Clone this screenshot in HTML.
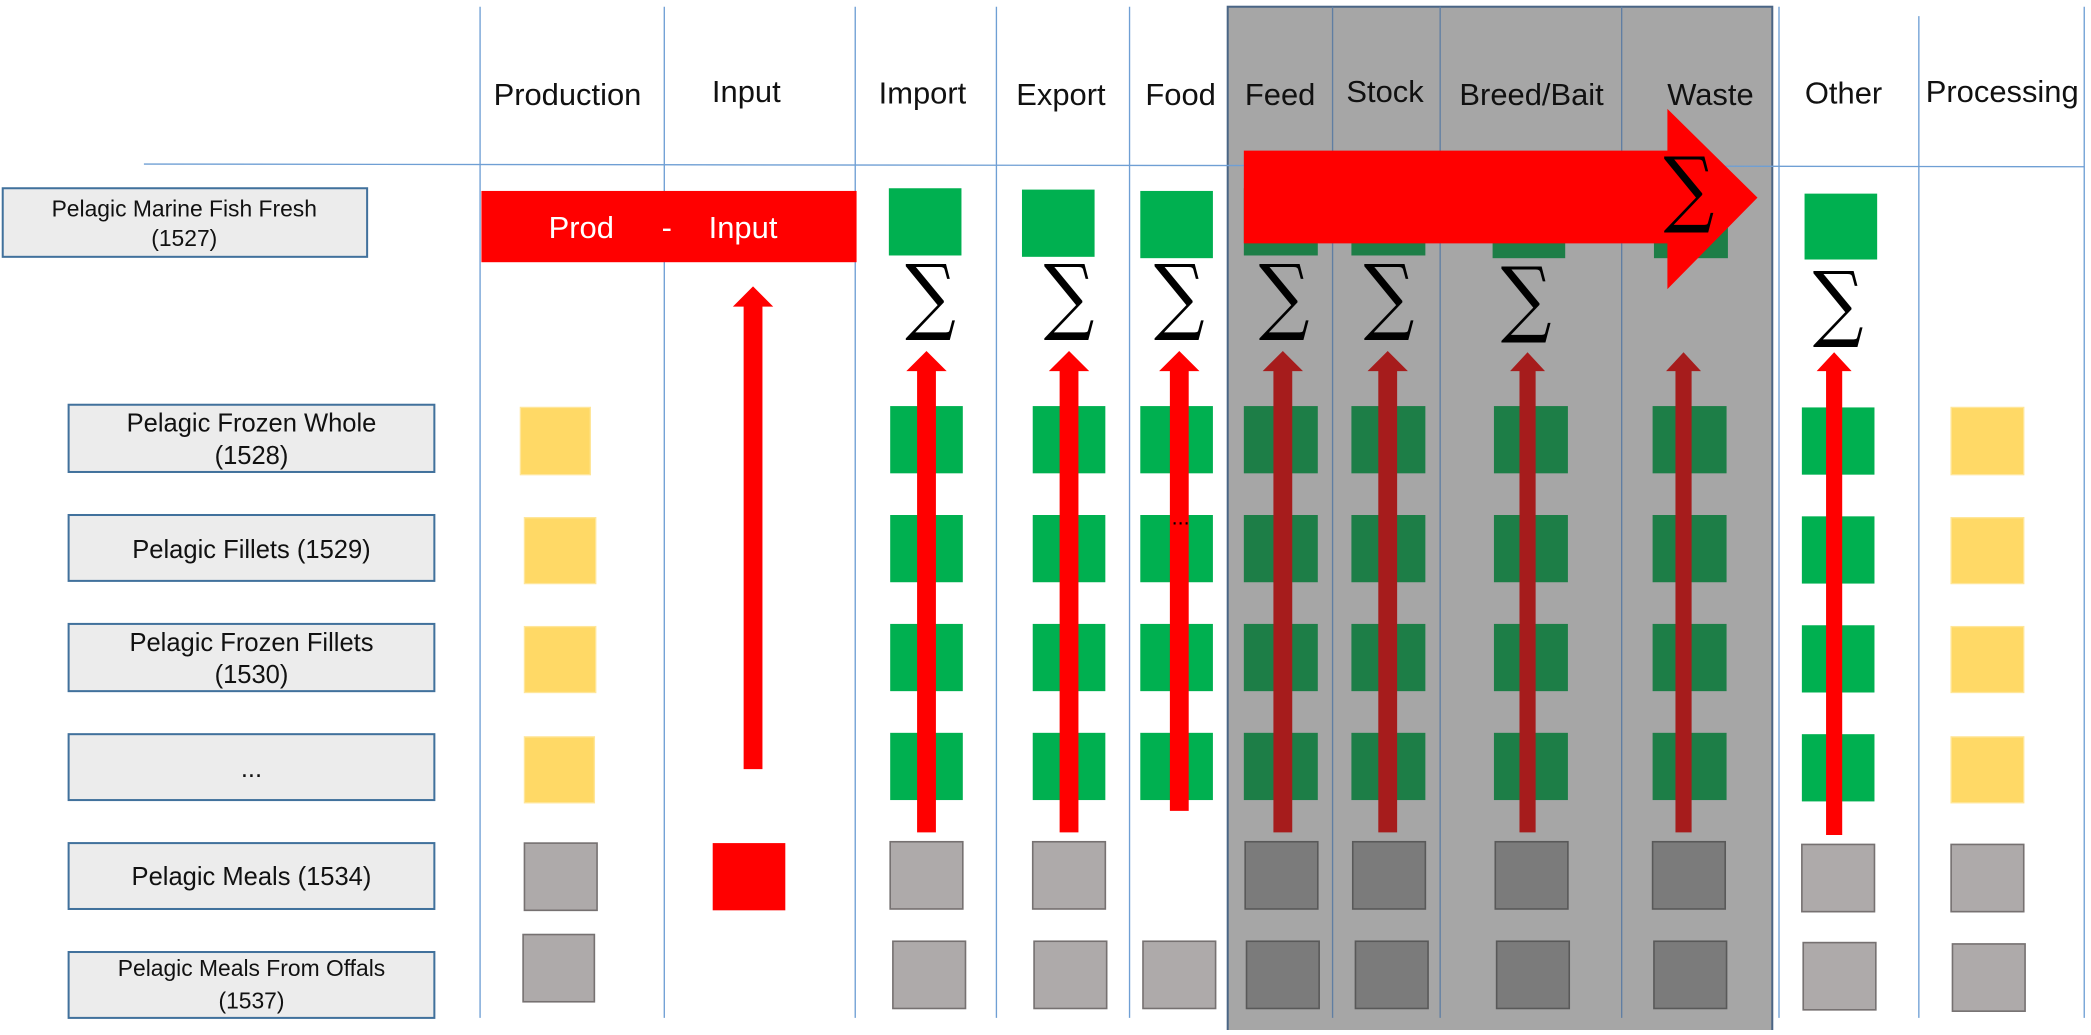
<!DOCTYPE html>
<html><head><meta charset="utf-8"><style>html,body{margin:0;padding:0;background:#fff;overflow:hidden}</style></head><body>
<svg width="2091" height="1030" viewBox="0 0 1555 766" xmlns="http://www.w3.org/2000/svg" font-family="Liberation Sans, sans-serif">
<rect x="913" y="5" width="405" height="765" fill="#a6a6a6" stroke="#4a6585" stroke-width="1.5"/>
<g stroke="#6f9fd4" stroke-width="1">
<line x1="357" y1="5" x2="357" y2="757"/><line x1="494" y1="5" x2="494" y2="757"/><line x1="636" y1="5" x2="636" y2="757"/><line x1="741" y1="5" x2="741" y2="757"/><line x1="840" y1="5" x2="840" y2="757"/><line x1="1323" y1="5" x2="1323" y2="757"/><line x1="1427" y1="12" x2="1427" y2="757"/><line x1="1550" y1="5" x2="1550" y2="757"/>
<line x1="107" y1="122" x2="1550" y2="124"/>
</g>
<g stroke="#5f7ea3" stroke-width="1"><line x1="991" y1="5" x2="991" y2="757"/><line x1="1071" y1="5" x2="1071" y2="757"/><line x1="1206" y1="5" x2="1206" y2="757"/></g>
<g font-size="23" fill="#111" text-anchor="middle">
<text x="422" y="78">Production</text><text x="555" y="76">Input</text><text x="686" y="77">Import</text><text x="789" y="78">Export</text><text x="878" y="78">Food</text><text x="952" y="78">Feed</text><text x="1030" y="76">Stock</text><text x="1139" y="78">Breed/Bait</text><text x="1272" y="78">Waste</text><text x="1371" y="77">Other</text><text x="1489" y="76">Processing</text>
</g>
<g fill="#ececec" stroke="#41719c" stroke-width="1.5">
<rect x="2" y="140" width="271" height="51"/><rect x="51" y="301" width="272" height="50"/><rect x="51" y="383" width="272" height="49"/><rect x="51" y="464" width="272" height="50"/><rect x="51" y="546" width="272" height="49"/><rect x="51" y="627" width="272" height="49"/><rect x="51" y="708" width="272" height="49"/>
</g>
<g font-size="19" fill="#111" text-anchor="middle">
<text x="137" y="161" font-size="17">Pelagic Marine Fish Fresh</text><text x="137" y="183" font-size="17">(1527)</text>
<text x="187" y="321">Pelagic Frozen Whole</text><text x="187" y="345">(1528)</text>
<text x="187" y="415">Pelagic Fillets (1529)</text>
<text x="187" y="484">Pelagic Frozen Fillets</text><text x="187" y="508">(1530)</text>
<text x="187" y="578">...</text>
<text x="187" y="658">Pelagic Meals (1534)</text>
<text x="187" y="726" font-size="17">Pelagic Meals From Offals</text><text x="187" y="750" font-size="17">(1537)</text>
</g>
<rect x="358" y="142" width="279" height="53" fill="#ff0000"/>
<g fill="#fff" font-size="23"><text x="408" y="177">Prod</text><text x="492" y="177">-</text><text x="527" y="177">Input</text></g>
<g fill="#00b050"><rect x="661" y="140" width="54" height="50"/><rect x="760" y="141" width="54" height="50"/><rect x="848" y="142" width="54" height="50"/><rect x="1342" y="144" width="54" height="49"/></g>
<g fill="#1d7e47"><rect x="925" y="140" width="55" height="50"/><rect x="1005" y="140" width="55" height="50"/><rect x="1110" y="140" width="54" height="52"/><rect x="1230" y="140" width="55" height="52"/></g>
<polygon points="925,112 1240,112 1240,81 1307,147 1240,215 1240,181 925,181" fill="#ff0000"/>
<g font-family="DejaVu Serif, Liberation Serif, serif" font-size="62" text-anchor="middle" fill="#000">
<text transform="translate(692,241) scale(0.85,1)">∑</text>
<text transform="translate(795,241) scale(0.85,1)">∑</text>
<text transform="translate(877,241) scale(0.85,1)">∑</text>
<text transform="translate(955,241) scale(0.85,1)">∑</text>
<text transform="translate(1033,241) scale(0.85,1)">∑</text>
<text transform="translate(1135,243) scale(0.85,1)">∑</text>
<text transform="translate(1256,161) scale(0.85,1)">∑</text>
<text transform="translate(1367,246) scale(0.85,1)">∑</text>
</g>
<g fill="#ffd966" stroke="#ffe699"><rect x="387" y="303" width="52" height="50"/><rect x="390" y="385" width="53" height="49"/><rect x="390" y="466" width="53" height="49"/><rect x="390" y="548" width="52" height="49"/>
<rect x="1451" y="303" width="54" height="50"/><rect x="1451" y="385" width="54" height="49"/><rect x="1451" y="466" width="54" height="49"/><rect x="1451" y="548" width="54" height="49"/></g>
<g fill="#00b050">
<rect x="662" y="302" width="54" height="50"/><rect x="768" y="302" width="54" height="50"/><rect x="848" y="302" width="54" height="50"/><rect x="1340" y="303" width="54" height="50"/>
<rect x="662" y="383" width="54" height="50"/><rect x="768" y="383" width="54" height="50"/><rect x="848" y="383" width="54" height="50"/><rect x="1340" y="384" width="54" height="50"/>
<rect x="662" y="464" width="54" height="50"/><rect x="768" y="464" width="54" height="50"/><rect x="848" y="464" width="54" height="50"/><rect x="1340" y="465" width="54" height="50"/>
<rect x="662" y="545" width="54" height="50"/><rect x="768" y="545" width="54" height="50"/><rect x="848" y="545" width="54" height="50"/><rect x="1340" y="546" width="54" height="50"/>
</g>
<g fill="#1d7e47">
<rect x="925" y="302" width="55" height="50"/><rect x="1005" y="302" width="55" height="50"/><rect x="1111" y="302" width="55" height="50"/><rect x="1229" y="302" width="55" height="50"/>
<rect x="925" y="383" width="55" height="50"/><rect x="1005" y="383" width="55" height="50"/><rect x="1111" y="383" width="55" height="50"/><rect x="1229" y="383" width="55" height="50"/>
<rect x="925" y="464" width="55" height="50"/><rect x="1005" y="464" width="55" height="50"/><rect x="1111" y="464" width="55" height="50"/><rect x="1229" y="464" width="55" height="50"/>
<rect x="925" y="545" width="55" height="50"/><rect x="1005" y="545" width="55" height="50"/><rect x="1111" y="545" width="55" height="50"/><rect x="1229" y="545" width="55" height="50"/>
</g>
<g fill="#aeaaaa" stroke="#767171" stroke-width="1.2">
<rect x="390" y="627" width="54" height="50"/><rect x="662" y="626" width="54" height="50"/><rect x="768" y="626" width="54" height="50"/><rect x="1340" y="628" width="54" height="50"/><rect x="1451" y="628" width="54" height="50"/>
<rect x="389" y="695" width="53" height="50"/><rect x="664" y="700" width="54" height="50"/><rect x="769" y="700" width="54" height="50"/><rect x="850" y="700" width="54" height="50"/><rect x="1341" y="701" width="54" height="50"/><rect x="1452" y="702" width="54" height="50"/>
</g>
<g fill="#7b7b7b" stroke="#595959" stroke-width="1.2">
<rect x="926" y="626" width="54" height="50"/><rect x="1006" y="626" width="54" height="50"/><rect x="1112" y="626" width="54" height="50"/><rect x="1229" y="626" width="54" height="50"/>
<rect x="927" y="700" width="54" height="50"/><rect x="1008" y="700" width="54" height="50"/><rect x="1113" y="700" width="54" height="50"/><rect x="1230" y="700" width="54" height="50"/>
</g>
<rect x="530" y="627" width="54" height="50" fill="#ff0000"/>
<g fill="#ff0000">
<polygon points="553,572 567,572 567,228 575,228 560,213 545,228 553,228"/>
<polygon points="682,619 696,619 696,276 704,276 689,261 674,276 682,276"/>
<polygon points="788,619 802,619 802,276 810,276 795,261 780,276 788,276"/>
<polygon points="870,603 884,603 884,276 892,276 877,261 862,276 870,276"/>
<polygon points="1358,621 1370,621 1370,276 1377,276 1364,262 1351,276 1358,276"/>
</g>
<g fill="#a61c1c">
<polygon points="947,619 961,619 961,276 969,276 954,261 939,276 947,276"/>
<polygon points="1025,619 1039,619 1039,276 1047,276 1032,261 1017,276 1025,276"/>
<polygon points="1130,619 1142,619 1142,276 1149,276 1136,262 1123,276 1130,276"/>
<polygon points="1246,619 1258,619 1258,276 1265,276 1252,262 1239,276 1246,276"/>
</g>
<text x="878" y="390" font-size="16" text-anchor="middle" fill="#000">...</text>
</svg>
</body></html>
